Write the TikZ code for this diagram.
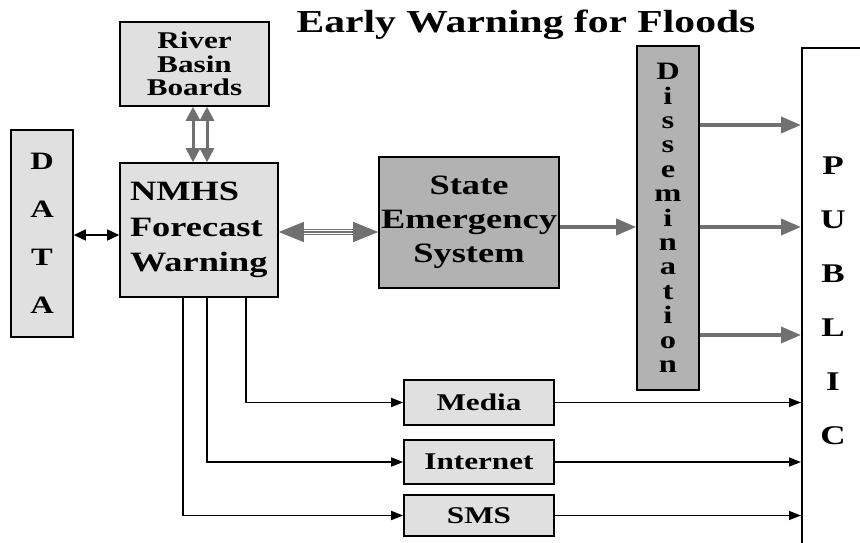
\documentclass[tikz,border=0pt]{standalone}
\usepackage{fontspec}
\setmainfont{Liberation Serif}[FakeStretch=1.3]
\usetikzlibrary{arrows.meta}
\definecolor{lightbox}{RGB}{224,224,224}
\definecolor{darkbox}{RGB}{178,178,178}
\definecolor{arrowgray}{RGB}{112,112,112}
\begin{document}
\begin{tikzpicture}[x=1pt,y=-1pt,
  box/.style={draw=black, line width=1.6pt, inner sep=0pt, font=\bfseries},
  lbox/.style={box, fill=lightbox},
  dbox/.style={box, fill=darkbox},
  garrow/.style={draw=arrowgray, line width=3.5pt, -{Triangle[length=20pt,width=16pt]}},
  gtwin/.style={draw=arrowgray, line width=3pt, {Triangle[length=14pt,width=14pt]}-{Triangle[length=14pt,width=14pt]}},
  gthin/.style={draw=arrowgray, line width=1.2pt},
  barrow/.style={draw=black, line width=1.6pt, -{Triangle[length=12pt,width=9pt]}},
  bdouble/.style={draw=black, line width=1.6pt, {Triangle[length=12pt,width=11pt]}-{Triangle[length=12pt,width=11pt]}},
]
\useasboundingbox (0,0) rectangle (860,543);
\clip (0,0) rectangle (860,543);
\fill[white] (0,0) rectangle (860,543);

% title
\node[font=\fontsize{32}{38}\selectfont\bfseries, anchor=base, inner sep=0] (title) at (526,33) {Early Warning for Floods};

% boxes
\node[lbox, minimum width=149pt, minimum height=84pt, align=center,
      font=\fontsize{24}{23.5}\selectfont\bfseries] (rbb) at (194.5,64) {River\\Basin\\Boards};
\node[lbox, minimum width=62pt, minimum height=207pt, align=center,
      font=\fontsize{25}{48}\selectfont\bfseries] (data) at (42,233.5) {D\\A\\T\\A};
\node[lbox, minimum width=158pt, minimum height=134pt, inner xsep=10pt, text width=138pt, align=left,
      font=\fontsize{28}{35.5}\selectfont\bfseries] (nmhs) at (199,230) {NMHS\\Forecast\\Warning};
\node[dbox, minimum width=180pt, minimum height=131pt, align=center,
      font=\fontsize{28}{34}\selectfont\bfseries] (state) at (469,222.5) {State\\Emergency\\System};
\node[dbox, minimum width=62pt, minimum height=344pt, align=center,
      font=\fontsize{25}{24.4}\selectfont\bfseries] (diss) at (668,218) {D\\i\\s\\s\\e\\m\\i\\n\\a\\t\\i\\o\\n};
\node[lbox, minimum width=150pt, minimum height=45pt, font=\fontsize{24}{28}\selectfont\bfseries] (media) at (479,402.5) {Media};
\node[lbox, minimum width=150pt, minimum height=44pt, font=\fontsize{24}{28}\selectfont\bfseries] (internet) at (479,462) {Internet};
\node[lbox, minimum width=150pt, minimum height=41pt, font=\fontsize{24}{28}\selectfont\bfseries] (sms) at (479,515.5) {SMS};
\node[box, fill=white, minimum width=120pt, minimum height=540pt, anchor=north west] (public) at (801,47) {};
\node[align=center, inner sep=0pt, anchor=north, font=\fontsize{27}{54}\selectfont\bfseries] (publictext) at (833,157) {P\\U\\B\\L\\I\\C};

% connectors
\draw[bdouble] (data.east |- 0,235) -- (nmhs.west |- 0,235);
\draw[gtwin] (rbb.south -| 193,0) -- (nmhs.north -| 193,0);
\draw[gtwin] (rbb.south -| 207,0) -- (nmhs.north -| 207,0);

\draw[gthin, {Triangle[length=25pt,width=20pt]}-{Triangle[length=25pt,width=20pt]}] (nmhs.east |- 0,232) -- (state.west |- 0,232);
\draw[gthin, shorten <=22pt, shorten >=22pt] (nmhs.east |- 0,229.3) -- (state.west |- 0,229.3);
\draw[gthin, shorten <=22pt, shorten >=22pt] (nmhs.east |- 0,234.7) -- (state.west |- 0,234.7);

\draw[garrow] (state.east |- 0,227) -- (diss.west |- 0,227);
\draw[garrow] (diss.east |- 0,125) -- (public.west |- 0,125);
\draw[garrow] (diss.east |- 0,227) -- (public.west |- 0,227);
\draw[garrow] (diss.east |- 0,335) -- (public.west |- 0,335);

\draw[barrow] (nmhs.south -| 246,0) |- (media.west);
\draw[barrow] (nmhs.south -| 207,0) |- (internet.west);
\draw[barrow] (nmhs.south -| 183,0) |- (sms.west);

\draw[barrow] (media.east) -- (public.west |- media.east);
\draw[barrow] (internet.east) -- (public.west |- internet.east);
\draw[barrow] (sms.east) -- (public.west |- sms.east);
\end{tikzpicture}
\end{document}
